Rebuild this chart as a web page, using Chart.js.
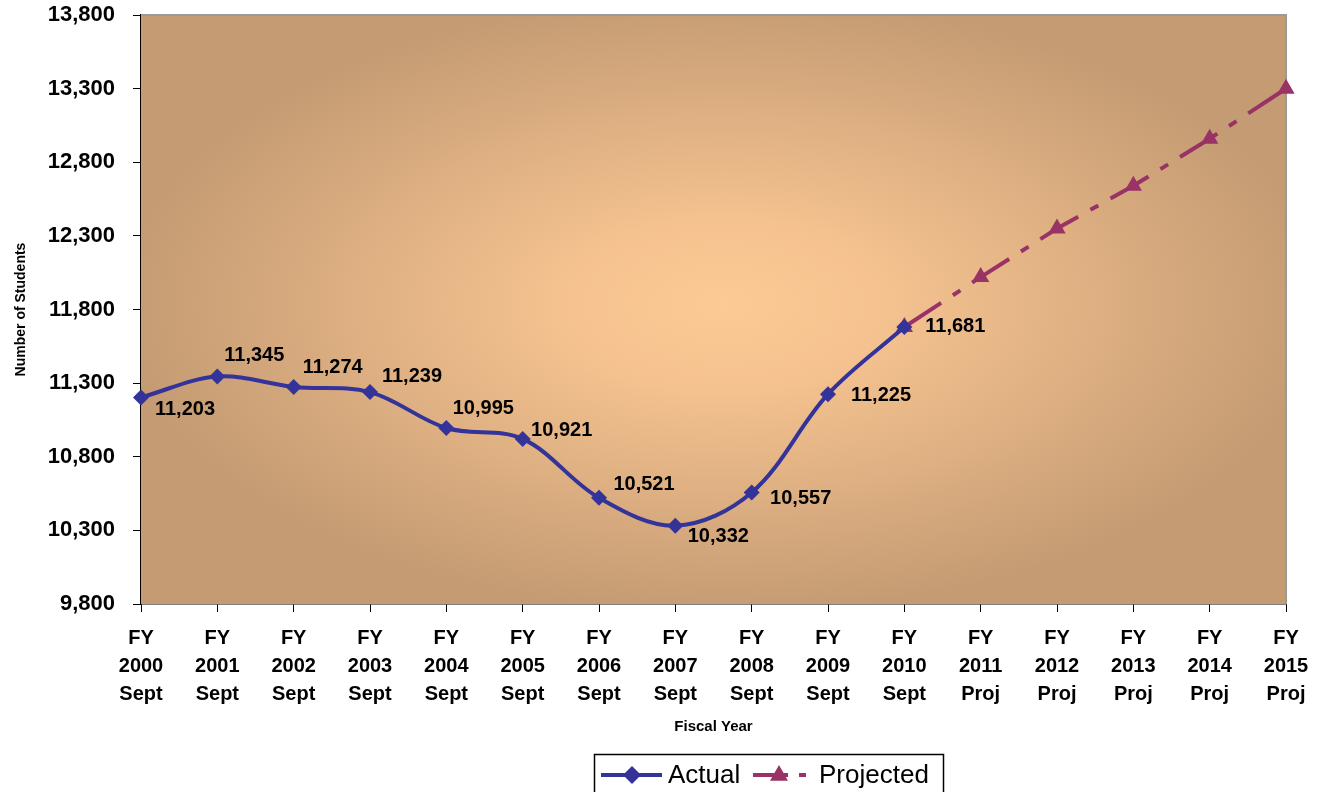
<!DOCTYPE html>
<html>
<head>
<meta charset="utf-8">
<title>Number of Students by Fiscal Year</title>
<script src="https://cdn.jsdelivr.net/npm/chart.js@4.4.1/dist/chart.umd.min.js"></script>
<style>
  html, body { margin: 0; padding: 0; background: #fff; }
  #wrap { width: 1318px; height: 792px; position: relative; }
</style>
</head>
<body>
<div id="wrap"><canvas id="enrollChart" width="1318" height="792"></canvas></div>
<script>
// fiscal years on the x axis (3 lines each)
const fiscalYears = ["2000", "2001", "2002", "2003", "2004", "2005", "2006", "2007",
                     "2008", "2009", "2010", "2011", "2012", "2013", "2014", "2015"];
const yearKinds = ["Sept", "Sept", "Sept", "Sept", "Sept", "Sept", "Sept", "Sept",
                   "Sept", "Sept", "Sept", "Proj", "Proj", "Proj", "Proj", "Proj"];

const actualStudents = [11203, 11345, 11274, 11239, 10995, 10921, 10521, 10332,
                        10557, 11225, 11681, null, null, null, null, null];
const projectedStudents = [null, null, null, null, null, null, null, null,
                           null, null, 11681, 12020, 12350, 12640, 12960, 13300];

const yMin = 9800;
const yMax = 13800;
const yStep = 500;

const FONT = "'Liberation Sans', Arial, sans-serif";
const ACTUAL_COLOR = "#333399";
const PROJ_COLOR = "#993366";

const xLabels = fiscalYears.map((y, i) => ["FY", y, yearKinds[i]]);

// tan radial background inside the plot area, plus the grey top/right frame
const plotBackground = {
    id: "plotBackground",
    beforeDatasetsDraw(chart) {
        const {ctx, chartArea} = chart;
        const cx = (chartArea.left + chartArea.right) / 2 + 10;
        const cy = (chartArea.top + chartArea.bottom) / 2 - 5;
        const rx = (chartArea.right - chartArea.left) / 2;
        const ry = (chartArea.bottom - chartArea.top) / 2;
        ctx.save();
        ctx.beginPath();
        ctx.rect(chartArea.left, chartArea.top, chartArea.right - chartArea.left, chartArea.bottom - chartArea.top);
        ctx.clip();
        ctx.translate(cx, cy);
        ctx.scale(rx / ry, 1);
        const g = ctx.createRadialGradient(0, 0, 0, 0, 0, ry * 1.05);
        g.addColorStop(0, "#FCCA95");
        g.addColorStop(0.25, "#F6C390");
        g.addColorStop(1, "#C49B73");
        ctx.fillStyle = g;
        ctx.fillRect(-rx * 2, -ry * 2, rx * 4, ry * 4);
        ctx.restore();

        ctx.save();
        ctx.strokeStyle = "#9a9a9a";
        ctx.lineWidth = 2;
        ctx.beginPath();
        ctx.moveTo(chartArea.left, chartArea.top);
        ctx.lineTo(chartArea.right, chartArea.top);
        ctx.lineTo(chartArea.right, chartArea.bottom);
        ctx.stroke();
        ctx.restore();
    }
};

// value labels next to the actual points
const labelOffsets = [[44, 12], [37, -21], [39, -19], [42, -16], [37, -20], [39, -8],
                      [45, -13], [43, 11], [49, 6], [53, 1], [51, -1]];
const valueLabels = {
    id: "valueLabels",
    afterDatasetsDraw(chart) {
        const {ctx} = chart;
        const meta = chart.getDatasetMeta(0);
        ctx.save();
        ctx.font = "bold 20px " + FONT;
        ctx.fillStyle = "#000";
        ctx.textAlign = "center";
        ctx.textBaseline = "middle";
        meta.data.forEach((pt, i) => {
            const v = actualStudents[i];
            if (v === null) return;
            const off = labelOffsets[i] || [45, 0];
            ctx.fillText(v.toLocaleString("en-US"), pt.x + off[0], pt.y + off[1]);
        });
        ctx.restore();
    }
};

function diamond(ctx, x, y, r) {
    ctx.beginPath();
    ctx.moveTo(x, y - r);
    ctx.lineTo(x + r, y);
    ctx.lineTo(x, y + r);
    ctx.lineTo(x - r, y);
    ctx.closePath();
    ctx.fill();
}

function triangle(ctx, x, y, r) {
    ctx.beginPath();
    ctx.moveTo(x, y - r);
    ctx.lineTo(x + r, y + r * 0.75);
    ctx.lineTo(x - r, y + r * 0.75);
    ctx.closePath();
    ctx.fill();
}

// boxed legend at the bottom
const boxLegend = {
    id: "boxLegend",
    afterDraw(chart) {
        const {ctx} = chart;
        const top = 754, left = 594, right = 943, yMid = 775;
        ctx.save();
        ctx.fillStyle = "#fff";
        ctx.fillRect(left, top, right - left, 50);
        ctx.strokeStyle = "#000";
        ctx.lineWidth = 1.5;
        ctx.strokeRect(left + 0.5, top + 0.5, right - left, 60);

        ctx.strokeStyle = ACTUAL_COLOR;
        ctx.fillStyle = ACTUAL_COLOR;
        ctx.lineWidth = 4;
        ctx.beginPath();
        ctx.moveTo(601, yMid);
        ctx.lineTo(662, yMid);
        ctx.stroke();
        diamond(ctx, 632, yMid, 9);

        ctx.strokeStyle = PROJ_COLOR;
        ctx.fillStyle = PROJ_COLOR;
        ctx.beginPath();
        ctx.moveTo(753, yMid);
        ctx.lineTo(788, yMid);
        ctx.moveTo(799, yMid);
        ctx.lineTo(806, yMid);
        ctx.stroke();
        triangle(ctx, 779, yMid - 1, 9);

        ctx.fillStyle = "#000";
        ctx.font = "26px " + FONT;
        ctx.textBaseline = "middle";
        ctx.textAlign = "left";
        ctx.fillText(chart.data.datasets[0].label, 668, yMid + 1);
        ctx.fillText(chart.data.datasets[1].label, 819, yMid + 1);
        ctx.restore();
    }
};

new Chart(document.getElementById("enrollChart"), {
    type: "line",
    data: {
        labels: xLabels,
        datasets: [{
            label: "Actual",
            data: actualStudents,
            borderColor: ACTUAL_COLOR,
            backgroundColor: ACTUAL_COLOR,
            borderWidth: 4,
            tension: 0.35,
            pointStyle: "rectRot",
            pointRadius: 8,
            pointHoverRadius: 8,
            pointBorderWidth: 0,
            spanGaps: false,
            fill: false
        }, {
            label: "Projected",
            data: projectedStudents,
            borderColor: PROJ_COLOR,
            backgroundColor: PROJ_COLOR,
            borderWidth: 4,
            borderDash: [44, 14, 9, 14],
            tension: 0,
            pointStyle: "triangle",
            pointRadius: 10,
            pointHoverRadius: 10,
            pointBorderWidth: 0,
            fill: false
        }]
    },
    options: {
        responsive: false,
        animation: false,
        devicePixelRatio: 1,
        layout: {padding: {top: 15, right: 32, bottom: 56, left: 0}},
        plugins: {
            legend: {display: false},
            tooltip: {enabled: false}
        },
        scales: {
            x: {
                type: "category",
                offset: false,
                afterFit(scale) {
                    scale.height = 132;
                    scale.paddingLeft = 0;
                    scale.paddingRight = 0;
                },
                border: {display: true, color: "#000", width: 1.5},
                grid: {drawOnChartArea: false, drawTicks: true, tickLength: 8, color: "#000"},
                ticks: {
                    color: "#000",
                    font: {family: FONT, size: 20, weight: "bold", lineHeight: 1.4},
                    maxRotation: 0,
                    autoSkip: false,
                    padding: 12
                },
                title: {
                    display: true,
                    text: "Fiscal Year",
                    color: "#000",
                    font: {family: FONT, size: 15, weight: "bold"},
                    padding: {top: 0, bottom: 0}
                }
            },
            y: {
                min: yMin,
                max: yMax,
                afterFit(scale) {
                    scale.width = 141;
                    scale.paddingTop = 0;
                    scale.paddingBottom = 0;
                },
                border: {display: true, color: "#000", width: 1.5},
                grid: {drawOnChartArea: false, drawTicks: true, tickLength: 8, color: "#000"},
                ticks: {
                    stepSize: yStep,
                    color: "#000",
                    padding: 18,
                    font: {family: FONT, size: 22, weight: "bold"},
                    callback: (v) => v.toLocaleString("en-US")
                },
                title: {
                    display: true,
                    text: "Number of Students",
                    color: "#000",
                    font: {family: FONT, size: 14, weight: "bold"},
                    padding: {top: 13, bottom: 0}
                }
            }
        }
    },
    plugins: [plotBackground, valueLabels, boxLegend]
});
</script>
</body>
</html>
